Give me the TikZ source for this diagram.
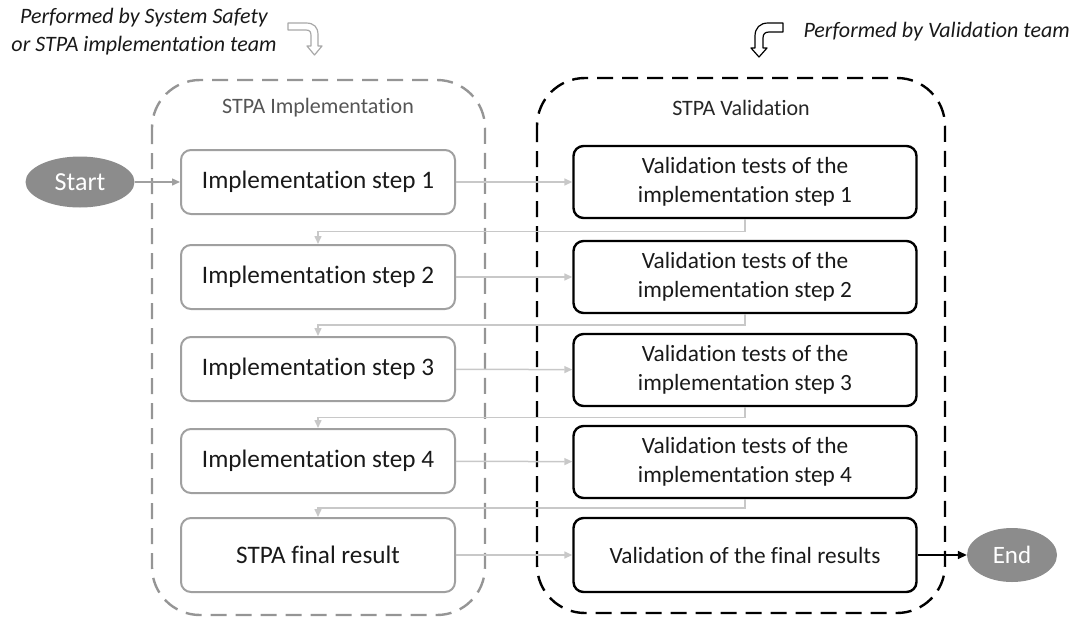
\documentclass[tikz,border=0pt]{standalone}
\usepackage{fontspec}
\setmainfont{Carlito}[Ligatures=NoCommon]
\usetikzlibrary{arrows.meta,calc,shapes.geometric}
\definecolor{boxgray}{HTML}{A0A0A0}
\definecolor{framegray}{HTML}{959595}
\definecolor{linkgray}{HTML}{C8C8C8}
\definecolor{startgray}{HTML}{8C8C8C}
\definecolor{titlegray}{HTML}{555555}
\definecolor{icongray}{HTML}{A8A8A8}

\begin{document}
\begin{tikzpicture}[x=1pt,y=-1pt,
  implbox/.style={draw=boxgray, line width=2pt, rounded corners=10pt,
    minimum width=274pt, minimum height=64pt,
    font=\fontsize{25.2}{29}\selectfont, text=black!90},
  valbox/.style={draw=black, line width=2.4pt, rounded corners=10pt,
    minimum width=343pt, minimum height=72pt, align=center,
    font=\fontsize{23.3}{28.5}\selectfont, text=black!90},
  terminal/.style={ellipse, fill=startgray, inner sep=0pt, text=white},
  frame/.style={dashed, dash pattern=on 16pt off 9pt, line width=2.4pt,
    rounded corners=48pt},
  link/.style={draw=linkgray, line width=1.5pt,
    -{Triangle[length=8pt,width=7pt]}},
  header/.style={font=\itshape\fontsize{22}{28}\selectfont, text=black!90},
  title/.style={font=\fontsize{22}{26}\selectfont},
]
\useasboundingbox (0,0) rectangle (1069,619);

% headers and their bent arrows
\node[header, align=center] (hdrL) at (144,32)
  {Performed by System Safety\\or STPA implementation team};
\node[header, anchor=west] (hdrR) at (800,32) {Performed by Validation team};
\draw[icongray, line width=1.2pt, line join=round]
  (288,23) -- (306,23) .. controls (314,23) and (318,27) .. (318,35)
  -- (318,46) -- (322,46) -- (314.5,55) -- (307,46) -- (311,46) -- (311,36)
  .. controls (311,32) and (310,30) .. (306,30) -- (288,30) -- cycle;
\draw[black, line width=1.2pt, line join=round]
  (783,23) -- (768,23) .. controls (760,23) and (755,28) .. (755,36)
  -- (755,48) -- (751,48) -- (759,57) -- (767,48) -- (763,48) -- (763,38)
  .. controls (763,34) and (765,32) .. (769,32) -- (783,32) -- cycle;

% the two dashed groups
\draw[frame, framegray] (152,80) rectangle (485,615);
\draw[frame, black] (537,78) rectangle (945,613);
\node[title, text=titlegray] (tL) at (318,108) {STPA Implementation};
\node[title, text=black!85] (tR) at (741,108) {STPA Validation};

% implementation steps
\node[implbox] (i1) at (318,182) {Implementation step 1};
\node[implbox] (i2) at (318,277) {Implementation step 2};
\node[implbox] (i3) at (318,369) {Implementation step 3};
\node[implbox] (i4) at (318,461) {Implementation step 4};
\node[implbox, minimum height=74pt] (i5) at (318,555) {STPA final result};

% validation steps
\node[valbox] (v1) at (745,182) {Validation tests of the\\implementation step 1};
\node[valbox] (v2) at (745,277) {Validation tests of the\\implementation step 2};
\node[valbox] (v3) at (745,370) {Validation tests of the\\implementation step 3};
\node[valbox] (v4) at (745,462) {Validation tests of the\\implementation step 4};
\node[valbox, minimum height=74pt] (v5) at (745,555) {Validation of the final results};

% terminals
\node[terminal, minimum width=109pt, minimum height=51pt,
  font=\fontsize{26}{30}\selectfont] (start) at (80,182) {Start};
\node[terminal, minimum width=90pt, minimum height=54pt,
  font=\fontsize{25}{30}\selectfont] (end) at (1012,555) {End};

% connectors
\draw[link, draw=boxgray] (start) -- (i1);
\foreach \k in {1,...,5} {
  \draw[link] (i\k) -- (v\k);
}
\foreach \k/\n in {1/2,2/3,3/4,4/5} {
  \coordinate (m\k) at ($(v\k.south)!.5!(i\n.north)$);
  \draw[link] (v\k.south) -- (v\k.south |- m\k) -- (i\n.north |- m\k) -- (i\n.north);
}
\draw[line width=1.5pt, -{Triangle[length=9pt,width=8pt]}] (v5) -- (end);
\end{tikzpicture}
\end{document}
